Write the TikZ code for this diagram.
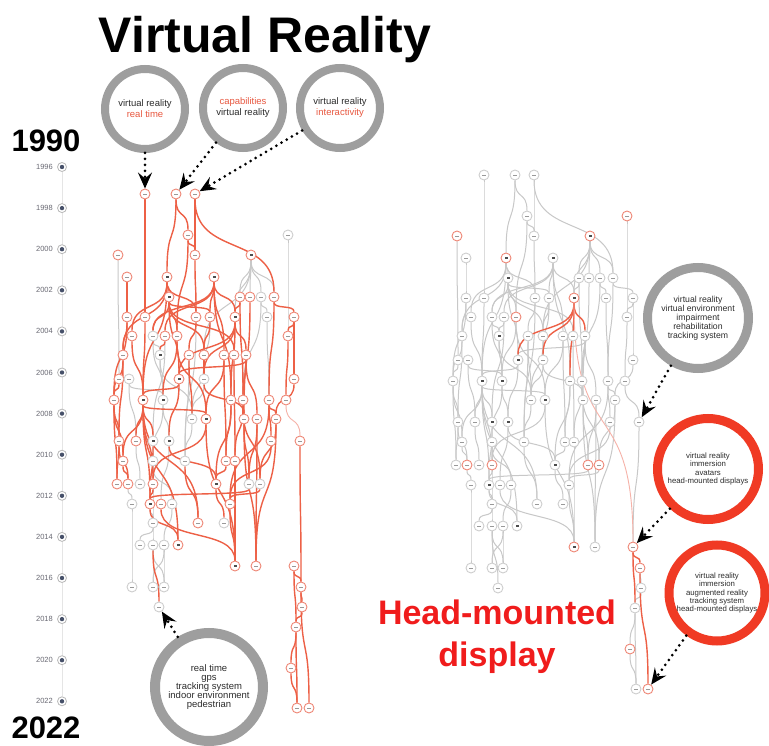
\documentclass[tikz,border=0pt]{standalone}
\usepackage{fontspec}
\setmainfont{Liberation Sans}
\usetikzlibrary{calc,arrows.meta}
\definecolor{edgered}{RGB}{237,96,70}
\definecolor{edgegray}{RGB}{200,200,200}
\definecolor{edgepale}{RGB}{246,178,168}
\definecolor{nodered}{RGB}{238,135,118}
\definecolor{nodegray}{RGB}{206,206,206}
\definecolor{ringgray}{RGB}{158,158,158}
\definecolor{ringred}{RGB}{240,58,36}
\definecolor{hmdred}{RGB}{240,28,28}
\definecolor{kwred}{RGB}{232,88,64}
\definecolor{txtdark}{RGB}{45,45,45}
\definecolor{yeargray}{RGB}{105,105,115}
\definecolor{dotblue}{RGB}{70,80,105}
\pgfdeclarelayer{bgfill}
\pgfdeclarelayer{ge}
\pgfdeclarelayer{re}
\pgfsetlayers{bgfill,ge,re,main}
\tikzset{
  gn/.style={circle, fill=white, line width=0.9pt, minimum size=10pt, inner sep=0pt},
  glight/.style={path picture={\fill[black!40] ([xshift=-2.2pt,yshift=-0.45pt]path picture bounding box.center) rectangle ++(4.4pt,0.9pt);}},
  gdark/.style={path picture={\fill[black!70] ([xshift=-1.5pt,yshift=-1.4pt]path picture bounding box.center) rectangle ++(3pt,2.8pt);}},
  nstyle/.code 2 args={\if#1r\tikzset{draw=nodered}\else\tikzset{draw=nodegray}\fi
                       \if#2d\tikzset{gdark}\else\tikzset{glight}\fi},
  eg/.style={draw=edgegray, line width=1pt},
  er/.style={draw=edgered, line width=1.4pt},
  ep/.style={draw=edgepale, line width=0.9pt},
  bub/.style={circle, fill=white, align=center, inner sep=0pt, text=txtdark},
  ptr/.style={black, line width=3pt, line cap=round, dash pattern=on 0pt off 6pt,
              -{Stealth[length=16pt,width=14pt,inset=6pt]}},
  ydot/.style={circle, draw=black!28, fill=white, minimum size=9pt, inner sep=0pt, line width=0.8pt,
               path picture={\fill[dotblue] (path picture bounding box.center) circle (2.2pt);}},
  ylbl/.style={anchor=east, inner sep=0pt, font=\fontsize{7.5}{7.5}\selectfont, text=yeargray},
  bigyear/.style={anchor=base, inner sep=0pt, font=\fontsize{31}{32}\selectfont\bfseries},
  hmd/.style={anchor=base, inner sep=0pt, text=hmdred, font=\fontsize{34}{34}\selectfont\bfseries}
}
\newcommand\gcurve[3]{\draw[#1] let \p1=(#2.center),\p2=(#3.center),\n1={0.62*(\y1-\y2)} in
  (#2) .. controls +(0pt,-\n1) and +(0pt,\n1) .. (#3);}
\newcommand\gedge[3]{\if#1n\relax\else
  \if#1g\begin{pgfonlayer}{ge}\gcurve{eg}{#2}{#3}\end{pgfonlayer}%
  \else\begin{pgfonlayer}{re}\if#1p\gcurve{ep}{#2}{#3}\else\gcurve{er}{#2}{#3}\fi\end{pgfonlayer}\fi
  \fi}
\begin{document}
\begin{tikzpicture}[x=1pt,y=-1pt]
\useasboundingbox (0,0) rectangle (769,746);
\begin{pgfonlayer}{bgfill}\fill[white] (0,0) rectangle (769,746);\end{pgfonlayer}

% title and big labels
\node[anchor=base, inner sep=0pt, font=\fontsize{50}{50}\selectfont\bfseries] (title) at (265,53) {Virtual Reality};
\node[bigyear] (y1990) at (46,152) {1990};
\node[bigyear] (y2022) at (46,738) {2022};
\node[hmd] (hmd1) at (497,624) {Head-mounted};
\node[hmd] (hmd2) at (497,666) {display};

% timeline
\foreach \yr in {1996,1998,...,2022}{
  \pgfmathsetmacro\yy{167+20.55*(\yr-1996)}
  \node[ydot] (D\yr) at (62,\yy) {};
  \node[ylbl] (Y\yr) at (53,\yy) {\yr};
}
\begin{pgfonlayer}{ge}\draw[black!10, line width=0.6pt] (D1996) -- (D2022);\end{pgfonlayer}

% graph nodes: name/x/y/left/right/glyph
\foreach \nm/\px/\py/\ka/\kb/\kg in {
a1/145/194/r/g/l, a2/176/194/r/g/l, a3/195/194/r/g/l,
b1/188/235/r/g/l, b2/288/235/g/r/l,
c1/118/255/r/r/l, c2/195/255/r/g/l, c3/251/255/r/r/d,
d1/127/277/r/g/l, d2/167/277/r/r/d, d3/214/277/r/g/d,
e1/169/297/r/g/d, e2/240/297/r/g/l, e3/250/297/r/g/l, e4/261/297/g/g/l, e5/274/297/r/g/l,
f1/127/317/r/g/l, f2/145/317/r/g/l, f3/196/317/r/g/l, f4/210/317/r/g/l, f5/235/317/r/r/d, f6/267/317/g/g/l, f7/294/317/r/g/l,
g1/132/336/r/g/l, g2/153/336/g/g/l, g3/165/336/r/g/l, g4/177/336/r/r/l, g5/288/336/r/g/l,
h1/123/355/r/g/l, h2/160/355/g/g/d, h3/189/355/r/g/l, h4/204/355/r/g/l, h5/224/355/r/g/l, h6/234/355/r/g/l, h7/246/355/r/g/l,
i1/119/379/r/g/l, i2/129/379/g/g/l, i3/179/379/r/g/d, i4/204/379/g/g/l, i5/294/379/r/g/l,
j1/114/400/r/g/l, j2/143/400/r/g/d, j3/163/400/g/g/d, j4/231/400/r/g/l, j5/243/400/r/g/l, j6/269/400/r/g/l, j7/286/400/r/g/l,
k1/192/419/g/g/l, k2/206/419/r/g/d, k3/244/419/r/g/l, k4/257/419/r/g/l, k5/276/419/r/g/l,
l1/119/441/r/g/l, l2/136/441/r/g/l, l3/153/441/g/g/d, l4/169/441/g/g/d, l5/271/441/r/g/l, l6/300/441/r/g/l,
m1/123/461/r/g/l, m2/153/461/g/g/l, m3/185/461/g/g/l, m4/226/461/r/g/l, m5/235/461/r/g/l,
n1/117/484/r/g/l, n2/128/484/r/r/l, n3/140/484/g/g/l, n4/153/484/r/r/l, n5/216/484/r/g/d, n6/249/484/g/r/l, n7/260/484/g/r/l,
o1/132/504/g/g/l, o2/150/504/r/g/d, o3/161/504/r/g/l, o4/172/504/g/g/l, o5/230/504/r/g/l,
p1/153/523/g/g/l, p2/198/523/r/g/l, p3/224/523/g/g/l,
q1/140/545/g/g/l, q2/153/545/g/g/l, q3/164/545/g/g/l, q4/178/545/r/g/d,
r1/235/566/r/r/d, r2/256/566/r/g/l, r3/294/566/r/r/l,
s1/132/587/g/g/l, s2/153/587/g/g/l, s3/164/587/g/g/l, s4/301/587/r/r/l,
t1/159/607/g/g/l, t2/302/607/r/g/l, u1/296/627/r/g/l, v1/291/668/r/r/l,
w1/297/708/r/g/l, w2/309/708/r/r/l}{
  \node[gn, nstyle={\ka}{\kg}] (L\nm) at (\px,\py) {};
  \node[gn, nstyle={\kb}{\kg}] (R\nm) at ({\px+339},{\py-19}) {};
}

% graph edges: source/target/left colour/right colour
\foreach \ea/\eb/\ca/\cb in {
a1/f2/r/g, f2/j2/r/g, a2/b1/r/g, a2/d2/r/g, a3/c2/r/g, a3/e5/r/g, b1/g4/r/g, b1/c2/r/g,
b2/g5/g/g, c1/i1/g/g, d1/f1/r/g, d2/e1/r/g, d2/g1/r/g, d2/h1/r/g, d2/f3/r/g, d2/j2/r/g,
d3/g2/r/g, d3/g3/r/g, d3/f4/r/g, d3/h5/r/g, d3/f5/r/g, d3/j4/r/g,
e1/g2/r/g, e1/g4/r/g, e1/h4/r/g, e1/f4/r/g, e1/i3/r/g, e1/h6/r/g, c2/f3/r/g,
c3/e2/g/g, c3/e3/g/g, c3/e4/g/g, c3/e5/g/g, c3/f5/g/g, c3/h4/g/g,
e2/f5/r/g, e2/j5/r/g, e3/k3/r/g, e4/f6/g/g, e4/j5/g/g, e5/j6/r/g, e5/f7/r/g, f6/j6/g/g,
f7/g5/r/g, f7/i5/r/g, f1/h1/r/g, f1/j1/r/g, f3/h3/r/g, f3/m3/g/g, f4/h4/r/g, f4/i4/g/g,
f5/i3/r/r, f5/i4/r/r, f5/j4/r/r, f5/h7/r/r, f5/r3/n/p,
g1/j2/r/g, g2/h2/g/g, g2/j3/g/g, g3/h2/r/g, g3/l3/g/g, g4/j3/r/g, g4/k2/r/g, g5/j7/r/g,
h1/j1/r/g, h1/l1/r/g, h2/j3/g/g, h2/k1/g/g, h3/k1/r/g, h3/m3/g/g, h4/i4/r/g, h4/k1/g/g,
h5/k2/r/g, h5/m4/r/g, h6/m5/r/g, h7/i3/r/g, h7/j5/r/g, h7/k4/r/g,
i1/j1/r/g, i2/j3/g/g, i2/l2/g/g, i3/j2/r/g, i3/l4/r/g, i4/k1/g/g, i4/k3/r/g, i5/k5/r/g,
j1/l1/r/g, j1/m1/r/g, j1/n1/r/g, j2/l2/r/g, j2/l3/r/g, j2/k2/r/g, j2/m1/r/g, j2/n4/r/g,
j2/o2/r/g, j2/p2/r/g, j2/q4/r/g, j3/l4/g/g, j3/m2/g/g, j4/m4/r/g, j4/n5/r/g,
j5/k3/r/g, j5/m5/r/g, j5/n7/r/g, j6/k5/r/g, j6/l5/r/g, j6/o5/r/g, j7/l6/p/g,
k1/m3/g/g, k2/n4/r/g, k2/r1/r/g, k3/n6/r/g, k3/r2/r/g, k4/n6/r/g, k4/r2/r/g,
k5/n7/r/g, k5/r2/r/g, l1/n1/r/g, l1/n2/r/g, l2/n3/g/g, l3/o2/r/g, l4/o3/g/g, l4/n5/r/g,
l5/o5/r/g, l6/s4/r/n, l6/r3/n/g, m1/n2/r/g, m2/n4/g/g, m2/o4/g/g, m3/p2/r/g, m4/n5/r/g,
m5/r1/r/g, n2/o1/g/g, n4/o2/r/g, n4/p1/g/g, n5/p3/r/g, n6/o2/r/g, n7/o5/r/g,
o2/q4/r/g, o2/p1/g/g, o3/r1/r/g, o4/q3/g/g, o5/r1/r/g, o1/s1/g/g, p1/q1/g/g, p1/q2/g/g,
q2/t1/r/g, q2/s2/g/g, q2/s3/g/g, q3/s2/g/g, q3/s3/g/g,
r3/s4/r/r, r3/u1/r/r, s4/t2/r/g, s4/w2/r/r, t2/u1/r/g, u1/v1/r/g, v1/w1/r/g, u1/w1/r/g}{
  \gedge{\ca}{L\ea}{L\eb}
  \gedge{\cb}{R\ea}{R\eb}
}

% bubbles
\node[bub, draw=ringgray, line width=8pt, minimum size=80pt, font=\fontsize{9.5}{11}\selectfont] (B1) at (145,109)
  {virtual reality\\\textcolor{kwred}{real time}};
\node[bub, draw=ringgray, line width=8pt, minimum size=80pt, font=\fontsize{9.5}{11}\selectfont] (B2) at (243,108)
  {\textcolor{kwred}{capabilities}\\virtual reality};
\node[bub, draw=ringgray, line width=8pt, minimum size=80pt, font=\fontsize{9.5}{11}\selectfont] (B3) at (340,108)
  {virtual reality\\\textcolor{kwred}{interactivity}};
\node[bub, draw=ringgray, line width=10pt, minimum size=108pt, font=\fontsize{9.5}{9.2}\selectfont] (B4) at (209,687)
  {real time\\gps\\tracking system\\indoor environment\\pedestrian};
\node[bub, draw=ringgray, line width=9pt, minimum size=101pt, font=\fontsize{8.7}{9}\selectfont] (R1) at (698,318)
  {virtual reality\\virtual environment\\impairment\\rehabilitation\\tracking system};
\node[bub, draw=ringred, line width=9pt, minimum size=101pt, font=\fontsize{7.8}{8.3}\selectfont] (R2) at (708,469)
  {virtual reality\\immersion\\avatars\\head-mounted displays};
\node[bub, draw=ringred, line width=9pt, minimum size=96pt, font=\fontsize{7.8}{8.3}\selectfont] (R3) at (717,593)
  {virtual reality\\immersion\\augmented reality\\tracking system\\head-mounted displays};

% pointers
\draw[ptr] (B1) -- (La1);
\draw[ptr] (B2) -- (La2);
\draw[ptr] (B3) -- (La3);
\draw[ptr] (B4) -- (Lt1);
\draw[ptr] (R1) -- (Rl6);
\draw[ptr] (R2) -- (Rr3);
\draw[ptr] (R3) -- (Rw2);
\end{tikzpicture}
\end{document}
